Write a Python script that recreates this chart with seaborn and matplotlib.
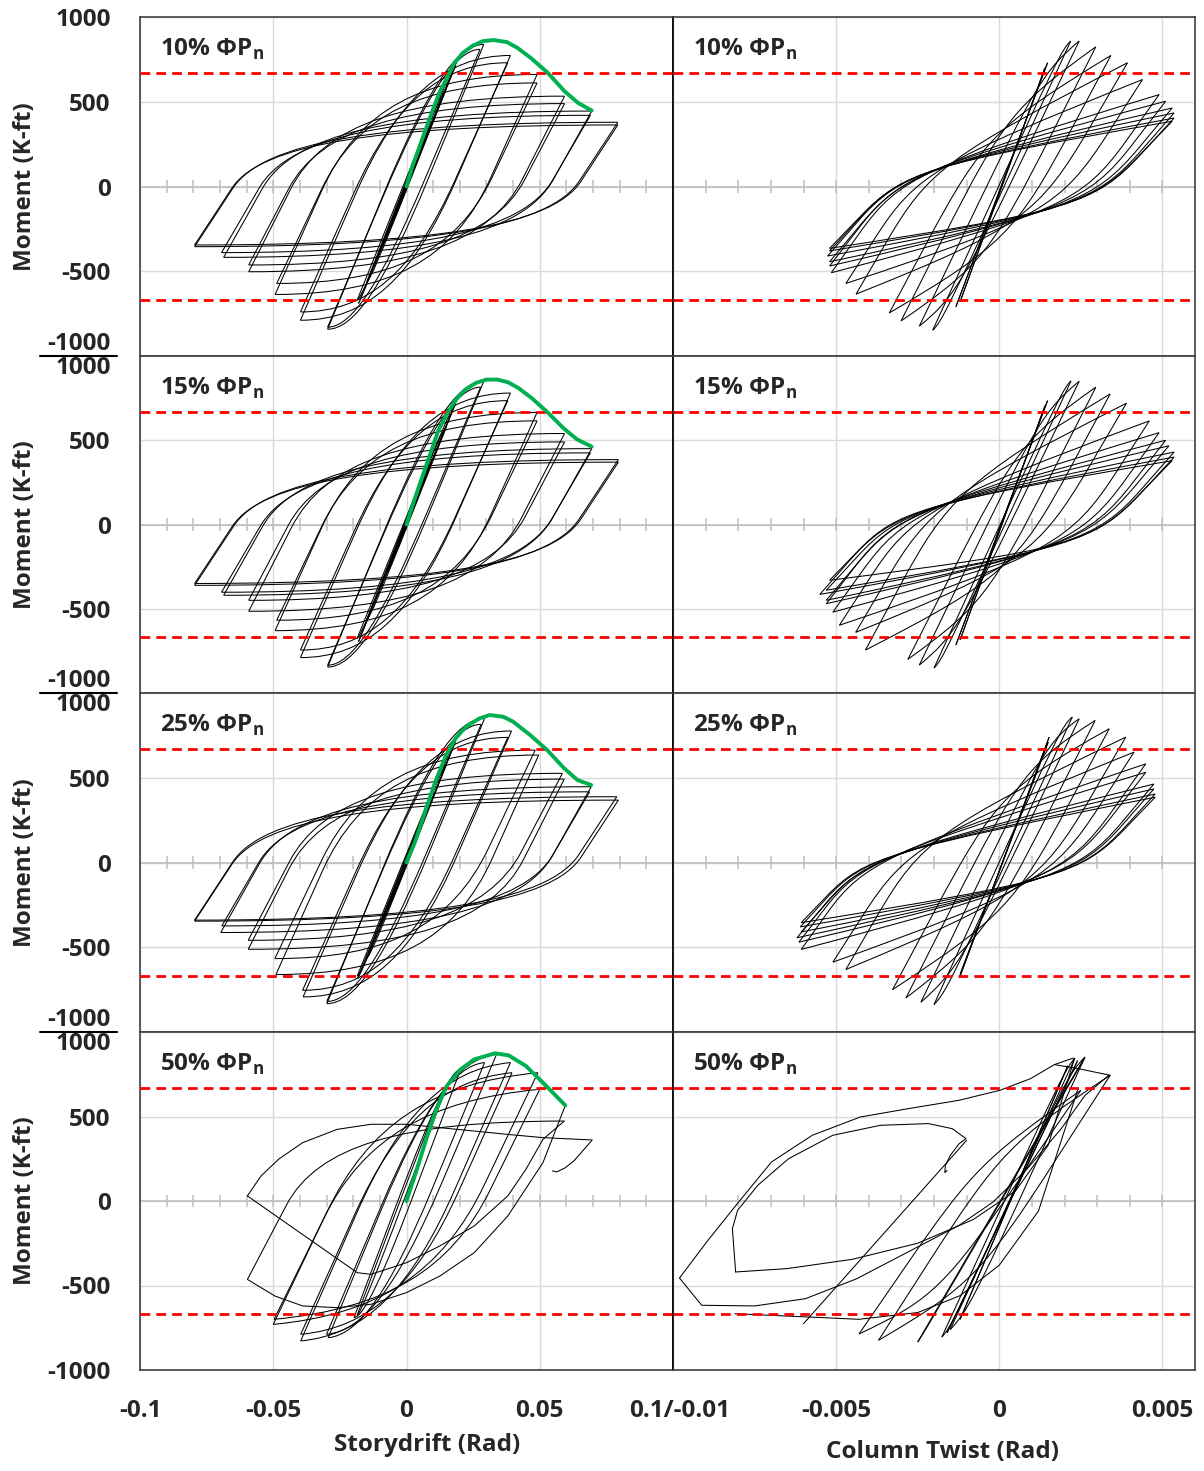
import numpy as np
import matplotlib.pyplot as plt
import seaborn as sns
from matplotlib.path import Path
from matplotlib.patches import PathPatch
from matplotlib.lines import Line2D

# ---------------- values ----------------
rows = ['10', '15', '25', '50']
red_level = 670

# storydrift panels: tip of every cycle (+ side / - side) and unloading stiffness (k-ft/rad)
sd10_pos_x = [0.0075, 0.010, 0.015, 0.0187, 0.0185, 0.029, 0.0276, 0.039, 0.038, 0.049, 0.049, 0.0593, 0.0593, 0.0695, 0.069, 0.0793, 0.0793]
sd10_pos_m = [290, 390, 580, 730, 715, 838, 809, 773, 730, 661, 611, 533, 489, 445, 420, 379, 363]
sd10_neg_x = [-0.0075, -0.010, -0.015, -0.018, -0.0185, -0.0296, -0.0296, -0.0398, -0.0398, -0.0493, -0.0487, -0.0592, -0.0592, -0.0686, -0.0694, -0.0795, -0.0795]
sd10_neg_m = [-280, -375, -565, -690, -670, -842, -830, -789, -740, -637, -572, -503, -463, -418, -390, -355, -345]
sd10_k = [40000, 40000, 40000, 39000, 39000, 38000, 37000, 36000, 35000, 35000, 33000, 31000, 30000, 28000, 27000, 24000, 24000]

sd15_pos_x = [0.0075, 0.010, 0.015, 0.0187, 0.0185, 0.029, 0.0278, 0.039, 0.038, 0.049, 0.049, 0.0593, 0.0593, 0.0695, 0.069, 0.0795, 0.0795]
sd15_pos_m = [290, 390, 580, 735, 720, 850, 815, 780, 735, 665, 615, 540, 490, 450, 425, 385, 370]
sd15_neg_x = [-0.0075, -0.010, -0.015, -0.018, -0.0185, -0.0296, -0.0296, -0.0398, -0.0398, -0.0493, -0.0487, -0.0592, -0.0592, -0.0686, -0.0694, -0.0795, -0.0795]
sd15_neg_m = [-280, -375, -565, -695, -675, -846, -835, -790, -745, -630, -568, -515, -450, -420, -402, -361, -350]
sd15_k = sd10_k

sd25_pos_x = [0.0075, 0.010, 0.015, 0.0187, 0.0185, 0.0293, 0.028, 0.0394, 0.038, 0.0496, 0.0483, 0.0592, 0.0585, 0.0693, 0.0687, 0.0795, 0.0789]
sd25_pos_m = [290, 390, 580, 732, 715, 850, 815, 776, 738, 634, 663, 492, 526, 447, 417, 368, 388]
sd25_neg_x = [-0.0075, -0.010, -0.015, -0.0184, -0.0185, -0.0299, -0.0299, -0.0388, -0.039, -0.049, -0.0494, -0.0594, -0.0594, -0.0697, -0.0693, -0.0795, -0.0795]
sd25_neg_m = [-280, -375, -565, -685, -670, -833, -820, -793, -754, -661, -567, -512, -459, -413, -374, -346, -340]
sd25_k = sd10_k

sd50_pos_x = [0.0151, 0.0203, 0.0293, 0.0338, 0.039, 0.0396, 0.0493, 0.050]
sd50_pos_m = [680, 779, 819, 868, 819, 759, 759, 661]
sd50_neg_x = [-0.0185, -0.0197, -0.0294, -0.030, -0.0397, -0.0397, -0.050, -0.0497]
sd50_neg_m = [-675, -690, -809, -789, -828, -789, -730, -700]
sd50_k = [42000, 42000, 38000, 37000, 36000, 35000, 33000, 32000]

# column twist panels
tw10_pos_x = [0.00148, 0.0014, 0.00219, 0.00245, 0.00296, 0.00342, 0.00393, 0.00439, 0.0049, 0.0051, 0.0053, 0.00536, 0.00536, 0.0053]
tw10_pos_m = [730, 700, 858, 858, 824, 773, 730, 631, 542, 503, 463, 434, 404, 385]
tw10_neg_x = [-0.00133, -0.0012, -0.00204, -0.00245, -0.00301, -0.00337, -0.00439, -0.0047, -0.00515, -0.0052, -0.0052, -0.00526, -0.0052, -0.0052]
tw10_neg_m = [-710, -680, -848, -824, -793, -746, -635, -572, -509, -469, -444, -410, -380, -365]
tw10_k = [500000, 500000, 420000, 400000, 380000, 360000, 330000, 300000, 270000, 250000, 230000, 220000, 210000, 200000]

tw15_pos_x = [0.00148, 0.0014, 0.0022, 0.00245, 0.00296, 0.0034, 0.0039, 0.0046, 0.0049, 0.0051, 0.0052, 0.00536, 0.00536, 0.0053]
tw15_pos_m = [735, 705, 852, 850, 815, 775, 720, 615, 545, 500, 467, 430, 400, 379]
tw15_neg_x = [-0.00133, -0.0012, -0.002, -0.00245, -0.0028, -0.0041, -0.0044, -0.0049, -0.0051, -0.0053, -0.0053, -0.0055, -0.0053, -0.0052]
tw15_neg_m = [-715, -685, -852, -834, -800, -745, -640, -598, -520, -470, -450, -415, -390, -331]
tw15_k = tw10_k

tw25_pos_x = [0.00153, 0.0015, 0.00224, 0.00245, 0.00294, 0.00337, 0.00388, 0.00413, 0.00449, 0.00449, 0.00474, 0.00474, 0.00478, 0.00478]
tw25_pos_m = [740, 710, 858, 848, 838, 789, 740, 651, 582, 532, 463, 434, 404, 385]
tw25_neg_x = [-0.00122, -0.0012, -0.002, -0.0024, -0.00286, -0.00327, -0.0047, -0.0051, -0.00607, -0.00614, -0.0062, -0.00607, -0.0061, -0.00607]
tw25_neg_m = [-680, -660, -838, -824, -799, -750, -631, -588, -513, -470, -444, -410, -380, -355]
tw25_k = tw10_k

tw50_pos_x = [0.00232, 0.00263, 0.0021, 0.0024, 0.0026, 0.0034, 0.0025]
tw50_pos_m = [846, 852, 800, 830, 840, 744, 655]
tw50_neg_x = [-0.00176, -0.0015, -0.0012, -0.0016, -0.0025, -0.0037, -0.0043]
tw50_neg_m = [-805, -760, -700, -780, -834, -824, -787]
tw50_k = [420000, 420000, 450000, 400000, 330000, 300000, 280000]

# pinching points (upper, lower) of the twist panels
tw_pinch = {'10': [(-0.002, 138), (0.0018, -158)], '15': [(-0.002, 138), (0.0018, -158)],
            '25': [(-0.0032, 80), (0.0018, -110)], '50': [(-0.0005, 250), (0.0005, -350)]}
# post-yield slope of the storydrift branches (k-ft/rad)
sd_slope = {'10': 0, '15': 0, '25': 0, '50': 1500}

# green backbone curves (storydrift)
bb10_x = [0, 0.0022, 0.0047, 0.0085, 0.0123, 0.0155, 0.018, 0.0212, 0.025, 0.0288, 0.0327, 0.0377, 0.0416, 0.0466, 0.053, 0.0593, 0.0644, 0.0695]
bb10_m = [0, 118, 227, 394, 552, 651, 730, 789, 832, 858, 864, 852, 818, 759, 671, 562, 493, 448]
bb15_x = [0, 0.0025, 0.005, 0.0085, 0.012, 0.0155, 0.0185, 0.022, 0.026, 0.030, 0.034, 0.038, 0.042, 0.047, 0.053, 0.059, 0.064, 0.0695]
bb15_m = [0, 125, 240, 400, 560, 665, 740, 800, 840, 860, 860, 845, 810, 750, 665, 570, 505, 462]
bb25_x = [0, 0.0032, 0.007, 0.0108, 0.0146, 0.0184, 0.0223, 0.0274, 0.0312, 0.0363, 0.040, 0.0464, 0.0528, 0.0592, 0.0642, 0.0693]
bb25_m = [0, 122, 299, 476, 624, 732, 801, 850, 870, 860, 831, 752, 663, 555, 486, 457]
bb50_x = [0, 0.0035, 0.0074, 0.0112, 0.0151, 0.0203, 0.0254, 0.0332, 0.0383, 0.0448, 0.0512, 0.0596]
bb50_m = [0, 168, 365, 542, 680, 779, 838, 874, 862, 799, 700, 566]

# 50% row: last cycles (0.06 loading with fracture, then 0.07 with the end hook)
sd50_up_start = (-0.0597, -464)
sd50_up_end = (0.0592, 473)
sd50_up_k = 30000
sd50_last_x = [-0.0597, -0.0546, -0.048, -0.039, -0.026, -0.0133, 0.0, 0.0125, 0.0254, 0.038, 0.0512, 0.0697, 0.0628, 0.0596, 0.0564, 0.0548]
sd50_last_m = [30, 148, 247, 345, 424, 454, 454, 434, 414, 394, 375, 361, 237, 197, 172, 178]
sd50_diag_x = [-0.0597, -0.0185, -0.0133, 0.0, 0.0125, 0.0254, 0.038, 0.0448, 0.0512, 0.0592]
sd50_diag_m = [30, -424, -434, -365, -266, -148, 30, 187, 365, 473]
sd50_low_x = [-0.0597, -0.0494, -0.039, -0.026, -0.0133, 0.0, 0.0125, 0.0254, 0.038, 0.0512, 0.0596]
sd50_low_m = [-464, -562, -621, -631, -611, -542, -444, -306, -89, 227, 566]

tw50_top_x = [-0.0098, -0.00897, -0.00803, -0.00698, -0.00573, -0.00426, -0.0028, -0.00123, 0.00002, 0.00096, 0.00169, 0.00227]
tw50_top_m = [-456, -243, -16, 231, 389, 497, 546, 596, 655, 724, 807, 846]
tw50_bot_x = [-0.0098, -0.00912, -0.0075, -0.00594, -0.00437, -0.0028, -0.00123, -0.00019, 0.00086, 0.0019, 0.00263, 0.00336]
tw50_bot_m = [-456, -617, -621, -578, -460, -302, -144, -6, 191, 428, 625, 744]
tw50_in_x = [-0.00808, -0.00818, -0.00802, -0.0074, -0.00646, -0.0051, -0.00364, -0.00217, -0.00144, -0.00102, -0.00123, -0.0015, -0.00165, -0.00167, -0.0016]
tw50_in_m = [-420, -164, -55, 93, 250, 389, 448, 458, 428, 369, 339, 270, 211, 168, 181]
tw50_in2_x = [-0.00808, -0.0065, -0.0045, -0.0025, -0.0008, 0.0005, 0.0015, 0.0023]
tw50_in2_m = [-420, -400, -345, -250, -110, 60, 330, 840]
tw50_flat_x = [-0.0081, -0.0059, -0.0043, -0.0025, -0.0012, 0.0, 0.0012, 0.0024]
tw50_flat_m = [-667, -686, -700, -660, -560, -380, -60, 655]
tw50_diag_x = [-0.006, -0.001]
tw50_diag_m = [-726, 359]
tw50_cap_x = [0.0017, 0.0025, 0.0034]
tw50_cap_m = [807, 780, 744]

# ---------------- drawing ----------------
sns.set_style('white')
plt.rcParams['font.family'] = ['Open Sans', 'DejaVu Sans']
plt.rcParams['mathtext.fontset'] = 'custom'
plt.rcParams['mathtext.bf'] = 'Open Sans:bold'
plt.rcParams['mathtext.rm'] = 'Open Sans'

W, H = 1204, 1471
fig = plt.figure(figsize=(W / 100, H / 100), dpi=100)
row_edges = [17, 356, 693, 1032, 1370]
col_edges = [(140, 673), (673, 1195)]
FS = 17.5
LW = 0.75


def branch(ax, start, end, k, pinch=None, slope=0.0, f=0.85, frac=0.5):
    # steep unloading line out of the start tip, bending into the post-yield line ending at the end tip
    x0, y0 = start
    x1, y1 = end
    s = slope if pinch is None else (y1 - pinch[1]) / (x1 - pinch[0])
    qx = (y1 - y0 + k * x0 - s * x1) / (k - s)
    qy = y0 + k * (qx - x0)
    if not (min(x0, x1) < qx < max(x0, x1)):
        verts, codes = [start, end], [Path.MOVETO, Path.LINETO]
    else:
        by = y0 + frac * (qy - y0)
        bx = x0 + (by - y0) / k
        c1 = (bx + f * (qx - bx), by + f * (qy - by))
        c2 = (x1 + f * (qx - x1), y1 + f * (qy - y1))
        verts = [start, (bx, by), c1, c2, end]
        codes = [Path.MOVETO, Path.LINETO, Path.CURVE4, Path.CURVE4, Path.CURVE4]
    ax.add_patch(PathPatch(Path(verts, codes), fill=False, lw=LW, ec='black', zorder=2))


g = globals()
for r, key in enumerate(rows):
    top, bot = row_edges[r], row_edges[r + 1]
    for c in range(2):
        x0, x1 = col_edges[c]
        ax = fig.add_axes([x0 / W, 1 - bot / H, (x1 - x0) / W, (bot - top) / H])
        ax.set_ylim(-1000, 1000)
        if c == 0:
            ax.set_xlim(-0.1, 0.1)
            ax.set_xticks([-0.1, -0.05, 0, 0.05, 0.1])
            minor = np.arange(-9, 10) * 0.01
            p = 'sd'
        else:
            ax.set_xlim(-0.01, 0.006)
            ax.set_xticks([-0.01, -0.005, 0, 0.005])
            minor = np.arange(-9, 6) * 0.001
            p = 'tw'
        ax.set_yticks([-1000, -500, 0, 500, 1000])
        ax.grid(True, color='#d9d9d9', lw=1)
        ax.set_axisbelow(True)
        ax.tick_params(length=0, labelsize=FS, pad=21)
        ax.axhline(0, color='#bfbfbf', lw=1.2, zorder=1)
        ax.vlines(minor, -38, 38, color='#bfbfbf', lw=1.1, zorder=1)
        for sp in ax.spines.values():
            sp.set_color('#404040')
            sp.set_linewidth(1.2)
        if c == 1:
            ax.spines['left'].set_color('black')

        # hysteresis loops
        px, pm = g[f'{p}{key}_pos_x'], g[f'{p}{key}_pos_m']
        nx, nm = g[f'{p}{key}_neg_x'], g[f'{p}{key}_neg_m']
        ks = g[f'{p}{key}_k']
        for i in range(len(px)):
            if c == 0:
                s = sd_slope[key]
                branch(ax, (nx[i], nm[i]), (px[i], pm[i]), ks[i], slope=s, f=0.7, frac=0.47)
                branch(ax, (px[i], pm[i]), (nx[i], nm[i]), ks[i], slope=s, f=0.7, frac=0.47)
            else:
                up, lo = tw_pinch[key]
                branch(ax, (nx[i], nm[i]), (px[i], pm[i]), ks[i], pinch=up, f=0.92, frac=0.4)
                branch(ax, (px[i], pm[i]), (nx[i], nm[i]), ks[i], pinch=lo, f=0.92, frac=0.4)
        if key == '50':
            if c == 0:
                branch(ax, sd50_up_start, sd50_up_end, sd50_up_k, slope=0, f=0.7, frac=0.47)
                names = ['last', 'diag', 'low']
            else:
                names = ['top', 'bot', 'in', 'in2', 'flat', 'diag', 'cap']
            for nm_ in names:
                ax.plot(g[f'{p}50_{nm_}_x'], g[f'{p}50_{nm_}_m'], color='black', lw=LW, zorder=2)

        for lvl in (red_level, -red_level):
            ax.axhline(lvl, color='#ff0000', lw=2, ls=(0, (3.5, 2.2)), zorder=3)
        if c == 0:
            sns.lineplot(x=g[f'bb{key}_x'], y=g[f'bb{key}_m'], ax=ax, color='#00b050',
                         lw=2.8, sort=False, estimator=None, zorder=4)

        ax.text(20 / (x1 - x0), 1 - 39 / (bot - top), f'{key}% ΦP' + r'$_\mathbf{n}$',
                transform=ax.transAxes, fontsize=FS, fontweight='bold', va='baseline')

        # tick labels
        if c == 0:
            ax.set_yticklabels(['-1000', '-500', '0', '500', '1000'], fontweight='bold')
            ticks = ax.yaxis.get_major_ticks()
            if r < 3:
                ticks[0].label1.set_verticalalignment('bottom')
            if r > 0:
                ticks[-1].label1.set_verticalalignment('top')
        else:
            ax.set_yticklabels([])
        if r == 3:
            if c == 0:
                ax.set_xticklabels(['-0.1', '-0.05', '0', '0.05', ''], fontweight='bold')
            else:
                ax.set_xticklabels(['', '-0.005', '0', '0.005'], fontweight='bold')
        else:
            ax.set_xticklabels([])
        ax.set_xlabel('')
        ax.set_ylabel('')

    fig.text(25 / W, 1 - (top + bot) / 2 / H, 'Moment (K-ft)', rotation=90, fontsize=FS,
             fontweight='bold', ha='center', va='center')
    if r < 3:
        fig.add_artist(Line2D([40 / W, 117 / W], [1 - bot / H] * 2, color='black', lw=1.5))

fig.text(680 / W, 1 - 1411 / H, '0.1/-0.01', fontsize=FS, fontweight='bold', ha='center', va='center')
fig.text(427 / W, 1 - 1445 / H, 'Storydrift (Rad)', fontsize=FS, fontweight='bold', ha='center', va='center')
fig.text(942 / W, 1 - 1452 / H, 'Column Twist (Rad)', fontsize=FS, fontweight='bold', ha='center', va='center')

fig.savefig('out.png', dpi=100)
